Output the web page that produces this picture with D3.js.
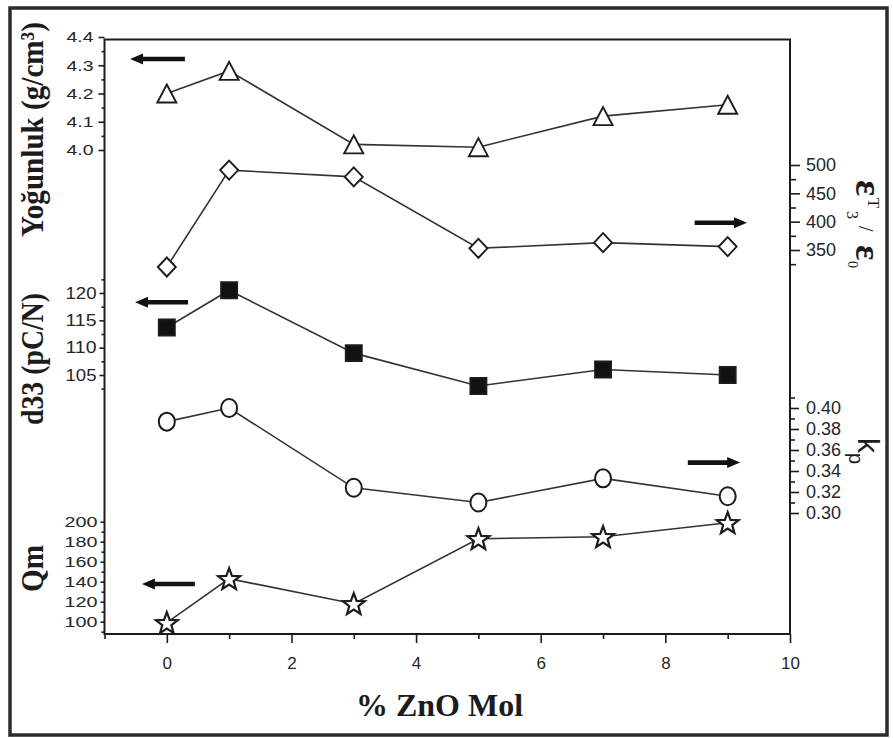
<!DOCTYPE html>
<html>
<head>
<meta charset="utf-8">
<script src="https://cdn.jsdelivr.net/npm/d3@7"></script>
<style>
  body { margin: 0; background: #fff; }
  svg { display: block; }
</style>
</head>
<body>
<div id="chart"></div>
<script>
// values
const znoMol = [0, 1, 3, 5, 7, 9];
const density = [4.20, 4.28, 4.02, 4.01, 4.12, 4.16];
const permittivity = [320, 491, 479, 353, 363, 356];
const d33 = [113.7, 120.5, 109.0, 103.0, 106.0, 105.0];
const kp = [0.387, 0.400, 0.324, 0.310, 0.333, 0.316];
const qm = [99, 143, 118, 183, 185, 199];

// tick labels
const xTicks = [0, 2, 4, 6, 8, 10];
const xMinor = [-1, 1, 3, 5, 7, 9];
const densityTicks = [4.0, 4.1, 4.2, 4.3, 4.4];
const densityMinor = [4.05, 4.15, 4.25, 4.35];
const permTicks = [350, 400, 450, 500];
const permMinor = [325, 375, 425, 475];
const d33Ticks = [105, 110, 115, 120];
const d33Minor = [102.5, 107.5, 112.5, 117.5, 122.5];
const kpTicks = [0.30, 0.32, 0.34, 0.36, 0.38, 0.40];
const kpMinor = [0.31, 0.33, 0.35, 0.37, 0.39, 0.41];
const qmTicks = [100, 120, 140, 160, 180, 200];
const qmMinor = [90, 110, 130, 150, 170, 190];

// arrows pointing at the axis each series belongs to: [x head, x tail, y]
const arrowDensity = [-0.59, 0.29, 4.322];
const arrowPerm = [9.31, 8.47, 398];
const arrowD33 = [-0.51, 0.34, 118.3];
const arrowKp = [9.20, 8.36, 0.348];
const arrowQm = [-0.40, 0.45, 137.7];

const W = 893, H = 738;
const ink = "#1c1c1c";

const svg = d3.select("#chart").append("svg")
    .attr("width", W)
    .attr("height", H);

// outer frame
svg.append("rect")
    .attr("x", 10).attr("y", 8)
    .attr("width", 877).attr("height", 727)
    .attr("fill", "none")
    .attr("stroke", "#2b2b2b")
    .attr("stroke-width", 3.5);

const x = d3.scaleLinear().domain([-1, 10]).range([104.5, 790]);
const yDen = d3.scaleLinear().domain([4.0, 4.4]).range([150, 37]);
const yPerm = d3.scaleLinear().domain([350, 500]).range([250, 165]);
const yD33 = d3.scaleLinear().domain([105, 120]).range([375, 293]);
const yKp = d3.scaleLinear().domain([0.30, 0.40]).range([513, 408]);
const yQm = d3.scaleLinear().domain([100, 200]).range([621.7, 521.7]);

const plotTop = 39.5, plotBottom = 634;

// plot box
svg.append("rect")
    .attr("x", x(-1)).attr("y", plotTop)
    .attr("width", x(10) - x(-1)).attr("height", plotBottom - plotTop)
    .attr("fill", "none")
    .attr("stroke", ink)
    .attr("stroke-width", 2);

function axisGroup(gen, tx, ty, size) {
    const g = svg.append("g")
        .attr("transform", `translate(${tx},${ty})`)
        .call(gen);
    g.select(".domain").remove();
    g.selectAll(".tick line").attr("stroke", ink).attr("stroke-width", 1.6);
    g.selectAll(".tick text")
        .attr("fill", "#262626")
        .attr("font-family", "'Liberation Sans', Arial, sans-serif")
        .attr("font-size", size || 17);
    return g;
}

// bottom axis
axisGroup(d3.axisBottom(x).tickValues(xMinor).tickSize(5).tickFormat(""), 0, plotBottom);
axisGroup(d3.axisBottom(x).tickValues(xTicks).tickSize(9).tickPadding(14)
    .tickFormat(d3.format("d")), 0, plotBottom, 17);

// left axes
axisGroup(d3.axisLeft(yDen).tickValues(densityMinor).tickSize(3).tickFormat(""), x(-1), 0);
axisGroup(d3.axisLeft(yDen).tickValues(densityTicks).tickSize(6).tickPadding(5)
    .tickFormat(d3.format(".1f")), x(-1), 0, 15)
    .selectAll(".tick text").attr("textLength", 27).attr("lengthAdjust", "spacingAndGlyphs");

axisGroup(d3.axisLeft(yD33).tickValues(d33Minor).tickSize(3).tickFormat(""), x(-1), 0);
axisGroup(d3.axisLeft(yD33).tickValues(d33Ticks).tickSize(5).tickPadding(3)
    .tickFormat(d3.format("d")), x(-1), 0, 16)
    .selectAll(".tick text").attr("textLength", 31).attr("lengthAdjust", "spacingAndGlyphs");

axisGroup(d3.axisLeft(yQm).tickValues(qmMinor).tickSize(3).tickFormat(""), x(-1), 0);
axisGroup(d3.axisLeft(yQm).tickValues(qmTicks).tickSize(4).tickPadding(3)
    .tickFormat(d3.format("d")), x(-1), 0, 14)
    .selectAll(".tick text").attr("textLength", 33).attr("lengthAdjust", "spacingAndGlyphs");

// right axes
axisGroup(d3.axisRight(yPerm).tickValues(permMinor).tickSize(6).tickFormat(""), x(10), 0);
axisGroup(d3.axisRight(yPerm).tickValues(permTicks).tickSize(10).tickPadding(6)
    .tickFormat(d3.format("d")), x(10), 0, 18);

axisGroup(d3.axisRight(yKp).tickValues(kpMinor).tickSize(5).tickFormat(""), x(10), 0);
axisGroup(d3.axisRight(yKp).tickValues(kpTicks).tickSize(9).tickPadding(7)
    .tickFormat(d3.format(".2f")), x(10), 0, 18);

// marker shapes
const markers = {
    triangle: "M0,-9L9.5,9L-9.5,9Z",
    diamond: "M0,-9.5L9,0L0,9.5L-9,0Z",
    square: "M-8,-8H8V8H-8Z",
    star: ""
};
(function () {
    const p = [];
    for (let i = 0; i < 10; i++) {
        const r = i % 2 === 0 ? 11.5 : 4.8;
        const a = -Math.PI / 2 + i * Math.PI / 5;
        p.push([r * Math.cos(a), r * Math.sin(a) + 1]);
    }
    markers.star = "M" + p.map(q => q[0].toFixed(2) + "," + q[1].toFixed(2)).join("L") + "Z";
})();

function series(values, yScale, shape) {
    const pts = values.map((v, i) => [x(znoMol[i]), yScale(v)]);
    svg.append("path")
        .attr("d", d3.line()(pts))
        .attr("fill", "none")
        .attr("stroke", "#333")
        .attr("stroke-width", 1.6);
    const g = svg.append("g");
    pts.forEach(p => {
        if (shape === "circle") {
            g.append("ellipse")
                .attr("cx", p[0]).attr("cy", p[1])
                .attr("rx", 8).attr("ry", 9)
                .attr("fill", "#fff").attr("stroke", ink).attr("stroke-width", 2);
        } else {
            g.append("path")
                .attr("d", markers[shape])
                .attr("transform", `translate(${p[0]},${p[1]})`)
                .attr("fill", shape === "square" ? "#111" : "#fff")
                .attr("stroke", ink)
                .attr("stroke-width", shape === "star" ? 2.2 : 1.9)
                .attr("stroke-linejoin", "miter");
        }
    });
}

series(density, yDen, "triangle");
series(permittivity, yPerm, "diamond");
series(d33, yD33, "square");
series(kp, yKp, "circle");
series(qm, yQm, "star");

// arrows
function arrow(a, yScale) {
    const hx = x(a[0]), tx = x(a[1]), y = yScale(a[2]);
    const dir = Math.sign(tx - hx);
    const hl = 13, hh = 5.5, sh = 2.3;
    const d = `M${hx},${y}L${hx + dir * hl},${y - hh}L${hx + dir * hl},${y - sh}` +
        `L${tx},${y - sh}L${tx},${y + sh}L${hx + dir * hl},${y + sh}L${hx + dir * hl},${y + hh}Z`;
    svg.append("path").attr("d", d).attr("fill", "#111");
}
arrow(arrowDensity, yDen);
arrow(arrowPerm, yPerm);
arrow(arrowD33, yD33);
arrow(arrowKp, yKp);
arrow(arrowQm, yQm);

// axis titles
const serif = "'Liberation Serif', 'Times New Roman', serif";
function leftTitle(label, cy, len) {
    svg.append("text")
        .attr("transform", `translate(43,${cy}) rotate(-90)`)
        .attr("text-anchor", "middle")
        .attr("font-family", serif)
        .attr("font-weight", "bold")
        .attr("font-size", 32)
        .attr("fill", ink)
        .attr("textLength", len)
        .attr("lengthAdjust", "spacingAndGlyphs")
        .text(label);
}
leftTitle("Yoğunluk (g/cm³)", 129.5, 215);
leftTitle("d33 (pC/N)", 359, 132);
leftTitle("Qm", 568.5, 47);

svg.append("text")
    .attr("x", 439.5).attr("y", 716)
    .attr("text-anchor", "middle")
    .attr("font-family", serif)
    .attr("font-weight", "bold")
    .attr("font-size", 32)
    .attr("fill", ink)
    .text("% ZnO Mol");

// right titles (rotated clockwise)
const eps = svg.append("text")
    .attr("transform", "translate(856,180) rotate(90)")
    .attr("font-family", serif)
    .attr("fill", ink);
[["ε", 0, 0, 38, "bold"], ["T", 18, -12, 17, "normal"], ["3", 31, 9, 16, "normal"],
 ["/", 46, -3, 20, "normal"], ["ε", 65, 0, 36, "bold"], ["0", 81, 8, 14, "normal"]]
    .forEach(t => {
        eps.append("tspan")
            .attr("x", t[1]).attr("y", t[2])
            .attr("font-size", t[3])
            .attr("font-weight", t[4])
            .text(t[0]);
    });

const kpt = svg.append("text")
    .attr("transform", "translate(858,438) rotate(90)")
    .attr("font-family", "'Liberation Sans', Arial, sans-serif")
    .attr("fill", ink);
kpt.append("tspan").attr("x", 0).attr("y", 0).attr("font-size", 30).text("k");
kpt.append("tspan").attr("x", 15).attr("y", 9).attr("font-size", 20).text("p");
</script>
</body>
</html>
